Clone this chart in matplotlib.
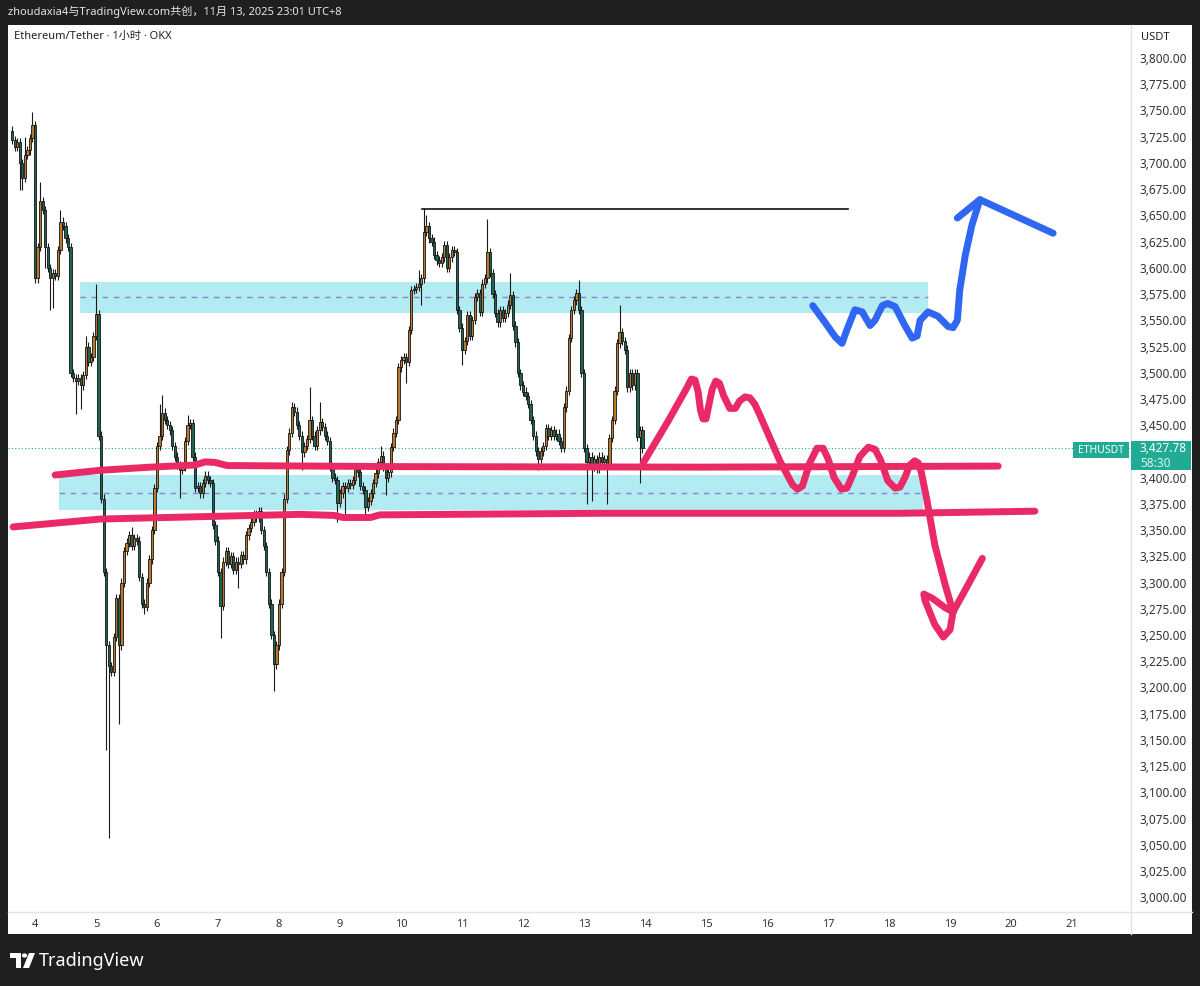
import numpy as np
import matplotlib.pyplot as plt
from matplotlib.patches import Rectangle, Polygon, Circle

plt.rcParams['font.family'] = ['Noto Sans', 'Noto Sans CJK SC', 'DejaVu Sans']

# hourly closes ETH/USDT (OKX), Nov 3 15:00 -> Nov 13 23:00, UTC+8
closes = [
    3722, 3715, 3720, 3700, 3686, 3708, 3712, 3724, 3736, 3590,
    3620, 3664, 3655, 3620, 3600, 3590, 3595, 3592, 3617, 3644,
    3640, 3628, 3620, 3500, 3495, 3492, 3495, 3488, 3498, 3525,
    3510, 3515, 3535, 3556, 3440, 3380, 3310, 3240, 3220, 3215,
    3248, 3285, 3240, 3300, 3330, 3338, 3345, 3335, 3342, 3340,
    3305, 3280, 3277, 3300, 3322, 3350, 3390, 3430, 3440, 3462,
    3455, 3450, 3445, 3430, 3420, 3412, 3407, 3410, 3435, 3450,
    3452, 3420, 3390, 3392, 3385, 3395, 3402, 3398, 3395, 3355,
    3340, 3310, 3278, 3320, 3330, 3318, 3325, 3312, 3320, 3318,
    3326, 3322, 3345, 3352, 3358, 3365, 3362, 3368, 3350, 3335,
    3310, 3280, 3250, 3222, 3240, 3280, 3310, 3380, 3426, 3443,
    3467, 3463, 3450, 3440, 3424, 3430, 3437, 3455, 3440, 3430,
    3445, 3453, 3448, 3440, 3435, 3410, 3400, 3398, 3376, 3385,
    3392, 3390, 3395, 3393, 3398, 3409, 3405, 3392, 3388, 3372,
    3378, 3385, 3395, 3404, 3415, 3421, 3410, 3400, 3405, 3429,
    3443, 3455, 3505, 3512, 3515, 3510, 3541, 3579, 3580, 3582,
    3585, 3590, 3634, 3640, 3628, 3625, 3612, 3607, 3605, 3610,
    3622, 3600, 3610, 3617, 3615, 3560, 3543, 3522, 3530, 3555,
    3535, 3550, 3572, 3576, 3558, 3585, 3590, 3615, 3595, 3575,
    3557, 3548, 3560, 3552, 3557, 3565, 3574, 3545, 3529, 3500,
    3488, 3482, 3478, 3470, 3455, 3440, 3425, 3418, 3425, 3430,
    3447, 3440, 3445, 3440, 3442, 3435, 3428, 3467, 3483, 3533,
    3560, 3569, 3576, 3560, 3500, 3428, 3415, 3420, 3410, 3418,
    3408, 3420, 3415, 3418, 3412, 3438, 3455, 3483, 3528, 3539,
    3530, 3522, 3486, 3500, 3488, 3500, 3439, 3445, 3427.78,
]
first_open = 3730
last_price = 3427.78

# long wicks (candle index -> price)
wick_high = {0: 3735, 5: 3725, 8: 3749, 11: 3682, 19: 3655, 29: 3535, 33: 3585,
             47: 3353, 58: 3470, 59: 3479, 69: 3460, 110: 3472, 117: 3486,
             121: 3472, 145: 3430, 160: 3598, 162: 3657, 163: 3650, 187: 3647,
             196: 3595, 223: 3588, 239: 3565}
wick_low = {3: 3674, 4: 3674, 13: 3600, 15: 3560, 16: 3562, 25: 3461, 27: 3465,
            37: 3140, 38: 3056, 42: 3165, 52: 3270, 66: 3381, 82: 3247, 89: 3295,
            103: 3197, 114: 3407, 128: 3358, 131: 3364, 139: 3360, 147: 3383,
            155: 3490, 161: 3565, 177: 3507, 207: 3407, 226: 3375, 228: 3378,
            234: 3375, 247: 3395}
wick_pad = 4

# drawings (x in days of November, y in USDT)
zone_top_x = [4.74, 18.64]
zone_top_y = [3557, 3586.5]
zone_bot_x = [4.39, 18.56]
zone_bot_y = [3369, 3402.5]
high_line_x = [10.34, 17.33]
high_line_y = 3656

red_upper_x = [4.33, 5.07, 5.89, 6.62, 6.79, 6.95, 7.15, 9.98, 14.90, 19.79]
red_upper_y = [3402.5, 3407, 3410, 3412, 3415, 3414.5, 3411.5, 3410.5, 3410, 3411]
red_lower_x = [3.64, 5.07, 8.34, 8.90, 9.05, 9.50, 9.65, 13.26, 18.18, 20.39]
red_lower_y = [3353, 3360.5, 3365, 3364, 3362, 3362, 3364.5, 3366, 3366, 3368]

red_path_x = [13.97, 14.38, 14.68, 14.76, 14.82, 14.87, 14.91, 14.95, 15.00, 15.05,
              15.10, 15.16, 15.22, 15.29, 15.39, 15.48, 15.55, 15.64, 15.72, 15.80,
              15.88, 15.97, 16.21, 16.42, 16.50, 16.58, 16.70, 16.82, 16.92, 17.00,
              17.10, 17.22, 17.31, 17.40, 17.52, 17.66, 17.77, 17.86, 17.98, 18.10,
              18.18, 18.26, 18.34, 18.42, 18.48, 18.53, 18.62, 18.75, 18.92, 19.05,
              19.00, 18.89, 18.75, 18.59, 18.57, 18.71, 18.92, 19.05, 19.25, 19.53]
red_path_y = [3414, 3454, 3485, 3494, 3493, 3482, 3464, 3456, 3456, 3470,
              3484, 3492, 3490, 3478, 3466, 3466, 3473, 3477, 3476, 3470,
              3460, 3448, 3416, 3393, 3389, 3392, 3414, 3428, 3428, 3418,
              3400, 3389, 3390, 3402, 3420, 3429, 3427, 3417, 3397, 3390,
              3391, 3400, 3412, 3416, 3414, 3405, 3379, 3336, 3298, 3272,
              3255, 3248, 3260, 3283, 3289, 3285, 3276, 3272, 3293, 3323]

blue_path_x = [16.75, 16.95, 17.12, 17.23, 17.31, 17.44, 17.56, 17.69, 17.77, 17.89,
               17.98, 18.10, 18.26, 18.38, 18.46, 18.51, 18.64, 18.80, 18.97, 19.05,
               19.12, 19.16, 19.25, 19.36, 19.49]
blue_path_y = [3564, 3548, 3534, 3528, 3541, 3560, 3558, 3545, 3550, 3564,
               3566, 3563, 3545, 3533, 3535, 3550, 3558, 3554, 3544, 3543,
               3550, 3579, 3612, 3641, 3665]
blue_head_x = [19.12, 19.49, 20.69]
blue_head_y = [3647.5, 3665, 3633]

days = list(range(4, 22))
bold_days = [10, 17]
price_ticks = np.arange(3000, 3801, 25)

W, H = 1200, 986
fig = plt.figure(figsize=(W / 100, H / 100), dpi=100, facecolor='#1f1f1f')

def fx(x):
    return x / W

def fy(y):
    return 1 - y / H

# white panel
fig.patches.append(Rectangle((fx(8), fy(934)), fx(1184), 909 / H, transform=fig.transFigure,
                             facecolor='white', edgecolor='none', zorder=-5))

ax = fig.add_axes([fx(8), fy(912), fx(1123), 887 / H])
ax.set_zorder(1)
ax.set_facecolor('white')
ax.set_xlim(3.557, 21.967)
ax.set_ylim(2985.9, 3831.5)
for s in ax.spines.values():
    s.set_visible(False)

# candles
c = np.array(closes, dtype=float)
o = np.array([first_open] + closes[:-1], dtype=float)
n = len(c)
t = 3 + (15 + np.arange(n)) / 24
hi = np.maximum(o, c) + wick_pad
lo = np.minimum(o, c) - wick_pad
for i, v in wick_high.items():
    hi[i] = max(hi[i], v)
for i, v in wick_low.items():
    lo[i] = min(lo[i], v)
up = c >= o
cols = np.where(up, '#bd772b', '#1d6453')
ax.vlines(t, lo, hi, color='#1a1a1a', lw=0.8, zorder=3)
ax.bar(t, np.maximum(np.abs(c - o), 0.8), bottom=np.minimum(o, c), width=0.9 / 24,
       color=cols, edgecolor='#141414', linewidth=0.6, zorder=4)

# zones
for zx, zy in [(zone_top_x, zone_top_y), (zone_bot_x, zone_bot_y)]:
    ax.add_patch(Rectangle((zx[0], zy[0]), zx[1] - zx[0], zy[1] - zy[0],
                           facecolor='#b2ebf2', edgecolor='none', zorder=1))
    ax.plot(zx, [sum(zy) / 2] * 2, color='#8f84c9', lw=1, dashes=(4, 4), zorder=2)

ax.plot(high_line_x, [high_line_y] * 2, color='#111111', lw=1.2, zorder=5)
ax.axhline(last_price, color='#22ab94', lw=0.8, ls=(0, (1, 2)), zorder=2)

red = '#e92a66'
kw = dict(lw=5, solid_capstyle='round', solid_joinstyle='round', zorder=6)
ax.plot(red_upper_x, red_upper_y, color=red, **kw)
ax.plot(red_lower_x, red_lower_y, color=red, **kw)
ax.plot(red_path_x, red_path_y, color=red, **kw)
blue = '#2f66f2'
ax.plot(blue_path_x, blue_path_y, color=blue, **kw)
ax.plot(blue_head_x, blue_head_y, color=blue, **kw)

# axes ticks
ax.set_xticks(days)
ax.set_xticklabels([str(d) for d in days], fontsize=8, color='#333333')
for lab, d in zip(ax.get_xticklabels(), days):
    if d in bold_days:
        lab.set_fontweight('bold')
ax.tick_params(axis='x', length=0, pad=5)
ax.yaxis.tick_right()
ax.set_yticks(price_ticks)
# the 3,425 label sits under the last-price tag
ax.set_yticklabels(['' if p == 3425 else f'{p:,.2f}' for p in price_ticks],
                   fontsize=8.5, color='#333333')
ax.tick_params(axis='y', length=0, pad=6)

# separators
fig.add_artist(plt.Line2D([fx(1131), fx(1131)], [fy(25), fy(934)], color='#e0e3eb', lw=1, zorder=2))
fig.add_artist(plt.Line2D([fx(8), fx(1192)], [fy(912), fy(912)], color='#e0e3eb', lw=1, zorder=2))

# price tags
fig.patches.append(Rectangle((fx(1131), fy(470)), fx(60), 29 / H, transform=fig.transFigure,
                             facecolor='#22ab94', edgecolor='none', zorder=5))
fig.patches.append(Rectangle((fx(1073), fy(458)), fx(56), 16 / H, transform=fig.transFigure,
                             facecolor='#22ab94', edgecolor='none', zorder=5))
fig.text(fx(1101), fy(450), 'ETHUSDT', color='white', fontsize=7.5, ha='center', va='center', zorder=6)
fig.text(fx(1140), fy(449), f'{last_price:,.2f}', color='white', fontsize=8.5, va='center', zorder=6)
fig.text(fx(1140), fy(463), '58:30', color='#d8f3ee', fontsize=8.5, va='center', zorder=6)
fig.text(fx(1141), fy(37), 'USDT', color='#222222', fontsize=8, va='center', zorder=6)

# header / title
fig.text(fx(8), fy(12), 'zhoudaxia4与TradingView.com共创，11月 13, 2025 23:01 UTC+8',
         color='#e6e6e6', fontsize=8, va='center')
fig.text(fx(14), fy(36), 'Ethereum/Tether · 1小时 · OKX', color='#222222', fontsize=8,
         va='center', zorder=6)

# TradingView logo
fig.patches.append(Polygon([(fx(10), fy(953)), (fx(21), fy(953)), (fx(21), fy(968)),
                            (fx(16), fy(968)), (fx(16), fy(958)), (fx(10), fy(958))],
                           transform=fig.transFigure, facecolor='white', edgecolor='none'))
fig.patches.append(Circle((fx(24.5), fy(955.5)), 2.6 / W, transform=fig.transFigure,
                          facecolor='white', edgecolor='none'))
fig.patches.append(Polygon([(fx(29), fy(953)), (fx(35), fy(953)), (fx(29), fy(968)),
                            (fx(23), fy(968))],
                           transform=fig.transFigure, facecolor='white', edgecolor='none'))
fig.text(fx(39), fy(961), 'TradingView', color='white', fontsize=13, fontweight='bold', va='center')

fig.savefig('out.png', dpi=100, facecolor=fig.get_facecolor())
